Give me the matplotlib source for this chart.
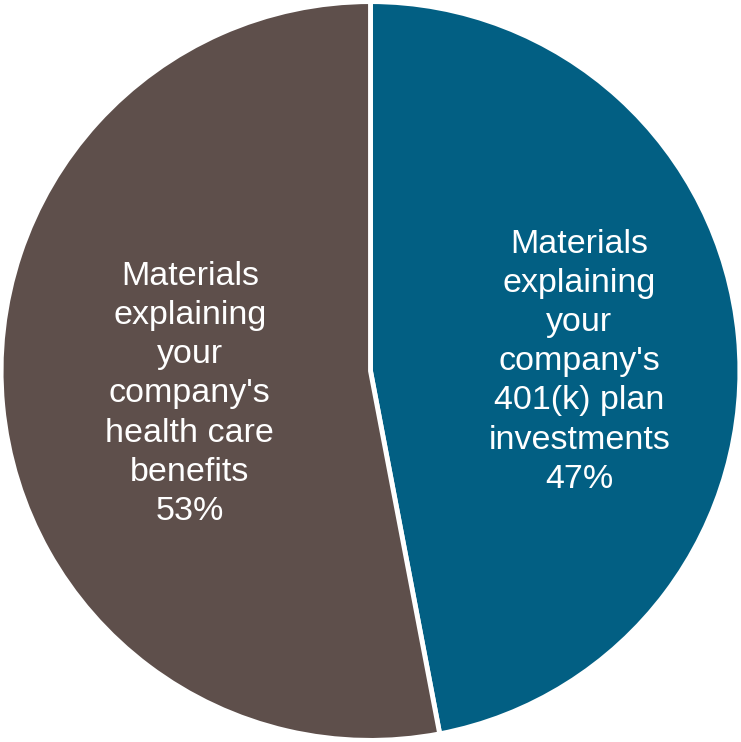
import matplotlib.pyplot as plt

labels = ["Materials\nexplaining\nyour\ncompany's\n401(k) plan\ninvestments",
          "Materials\nexplaining\nyour\ncompany's\nhealth care\nbenefits"]
shares = [47, 53]
colors = ["#025F83", "#5E4F4B"]
# label anchor (centre x, baseline of last line) in axes data units
label_pos = [(0.565, -0.316), (-0.489, -0.403)]

fig = plt.figure(figsize=(7.41, 7.42), dpi=100)
ax = fig.add_axes([0, 0, 1, 1])

wedges, _ = ax.pie(shares, colors=colors, startangle=90, counterclock=False,
                   radius=1.0, center=(0, 0),
                   wedgeprops=dict(edgecolor="white", linewidth=3.5))

for lab, val, (x, y) in zip(labels, shares, label_pos):
    ax.text(x, y, f"{lab}\n{val}%", ha="center", va="baseline",
            multialignment="center", color="white", fontsize=24.5,
            family="Liberation Sans", linespacing=1.34)

ax.set_xlim(-1.003, 1.003)
ax.set_ylim(-1.004, 1.004)
ax.set_aspect("equal")
ax.axis("off")

fig.savefig("out.png", dpi=100, facecolor="white")
